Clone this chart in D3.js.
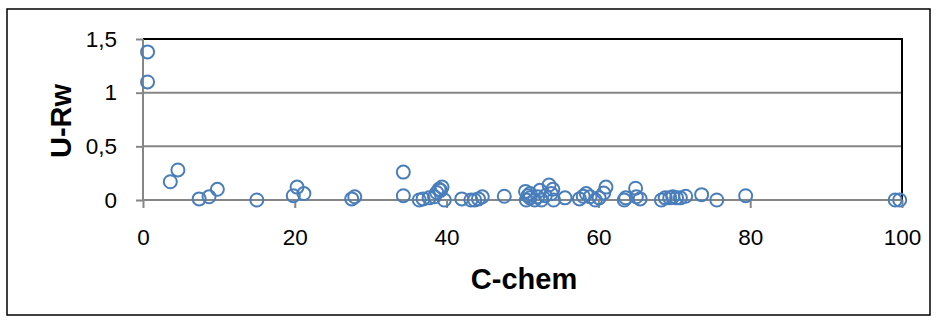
<!DOCTYPE html>
<html>
<head>
<meta charset="utf-8">
<script src="https://cdn.jsdelivr.net/npm/d3@7"></script>
<style>
  body { margin: 0; background: #fff; }
  text { font-family: "Liberation Sans", Arial, sans-serif; }
</style>
</head>
<body>
<svg width="937" height="322"></svg>
<script>
// C-chem values
const cChem = [
  0.6, 0.6, 3.6, 4.6, 7.4, 8.7, 9.8, 15.0, 19.8, 20.3, 21.2,
  27.5, 27.9, 34.3, 34.3, 36.4, 36.9, 37.7, 38.4, 38.7, 39.0, 39.4, 39.2, 39.7,
  42.0, 43.2, 43.7, 44.2, 44.7, 47.6,
  50.4, 50.5, 50.7, 51.0, 51.0, 51.6, 52.0, 52.3, 52.5, 53.0, 53.5, 53.8, 54.0, 54.1,
  55.6, 57.5, 58.0, 58.4, 58.9, 59.6, 60.1, 60.7, 61.0,
  63.4, 63.6, 64.9, 65.0, 65.5, 68.3, 68.8, 69.4, 69.8, 70.3, 70.8, 71.5,
  73.6, 75.6, 79.4, 99.1, 99.7
];
// U-Rw values
const uRw = [
  1.38, 1.10, 0.17, 0.28, 0.01, 0.03, 0.10, 0.0, 0.04, 0.12, 0.06,
  0.01, 0.03, 0.26, 0.04, 0.0, 0.01, 0.02, 0.03, 0.07, 0.10, 0.12, 0.09, 0.0,
  0.01, 0.0, 0.0, 0.01, 0.03, 0.035,
  0.08, 0.0, 0.04, 0.02, 0.06, 0.0, 0.03, 0.09, 0.0, 0.04, 0.14, 0.06, 0.10, 0.0,
  0.02, 0.01, 0.035, 0.06, 0.03, 0.0, 0.02, 0.065, 0.12,
  0.0, 0.02, 0.11, 0.03, 0.01, 0.0, 0.02, 0.02, 0.03, 0.02, 0.02, 0.035,
  0.05, 0.0, 0.04, 0.0, 0.0
];
const xTicks = [0, 20, 40, 60, 80, 100];
const yTicks = [0, 0.5, 1, 1.5];

const svg = d3.select('svg');
const plotL = 143, plotR = 902, plotT = 39, plotB = 200;

// outer chart frame
svg.append('rect')
  .attr('x', 7).attr('y', 9)
  .attr('width', 923).attr('height', 306)
  .attr('fill', 'none')
  .attr('stroke', '#000')
  .attr('stroke-width', 1.5);

const x = d3.scaleLinear().domain([0, 100]).range([plotL, plotR]);
const y = d3.scaleLinear().domain([0, 1.5]).range([plotB, plotT]);
const fmt = d => String(d).replace('.', ',');

// gridlines
svg.append('g')
  .selectAll('line')
  .data(yTicks.slice(1, -1))
  .join('line')
  .attr('x1', plotL).attr('x2', plotR)
  .attr('y1', d => y(d)).attr('y2', d => y(d))
  .attr('stroke', '#868686')
  .attr('stroke-width', 2);

// plot area border (top + right)
svg.append('path')
  .attr('d', `M${plotL},${plotT}H${plotR}V${plotB}`)
  .attr('fill', 'none')
  .attr('stroke', '#000')
  .attr('stroke-width', 2);

const yAxis = svg.append('g')
  .attr('transform', `translate(${plotL},0)`)
  .call(d3.axisLeft(y).tickValues(yTicks).tickFormat(fmt).tickSize(7).tickPadding(19));

const xAxis = svg.append('g')
  .attr('transform', `translate(0,${plotB})`)
  .call(d3.axisBottom(x).tickValues(xTicks).tickSize(8).tickPadding(21));

[yAxis, xAxis].forEach(a => {
  a.select('.domain').attr('stroke', '#868686').attr('stroke-width', 2);
  a.selectAll('.tick line').attr('stroke', '#868686').attr('stroke-width', 2);
  a.selectAll('.tick text')
    .attr('fill', '#000')
    .style('font-size', '22.5px')
    .style('font-family', '"Liberation Sans", Arial, sans-serif');
});
// plain axis lines, no outer ticks
yAxis.select('.domain').attr('d', `M0,${plotT}V${plotB}`);
xAxis.select('.domain').attr('d', `M${plotL},0H${plotR}`);

// points
svg.append('g')
  .selectAll('circle')
  .data(cChem.map((c, i) => [c, uRw[i]]))
  .join('circle')
  .attr('cx', d => x(d[0]))
  .attr('cy', d => y(d[1]))
  .attr('r', 6.5)
  .attr('fill', 'none')
  .attr('stroke', '#4a7ebb')
  .attr('stroke-width', 2);

svg.append('text')
  .attr('transform', 'translate(71,121) rotate(-90)')
  .attr('text-anchor', 'middle')
  .attr('font-weight', 'bold')
  .attr('font-size', '29px')
  .text('U-Rw');

svg.append('text')
  .attr('x', 524)
  .attr('y', 289)
  .attr('text-anchor', 'middle')
  .attr('font-weight', 'bold')
  .attr('font-size', '29px')
  .text('C-chem');
</script>
</body>
</html>
